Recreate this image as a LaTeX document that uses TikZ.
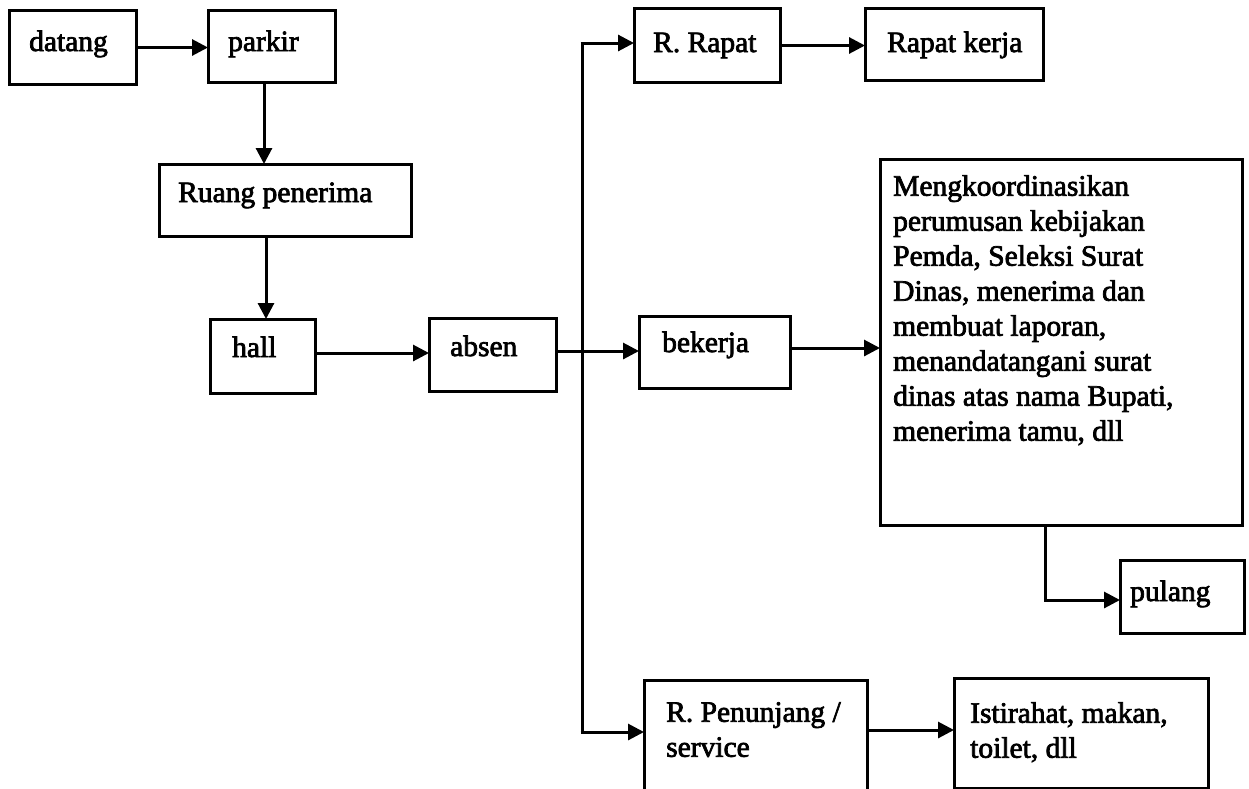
\documentclass[tikz,border=0pt]{standalone}
\usepackage{fontspec}
\setmainfont{Liberation Serif}[FakeBold=2.5]
\usetikzlibrary{arrows.meta,calc}

\tikzset{
  box/.style={draw, line width=3pt, inner sep=0pt, anchor=north west},
  lbl/.style={inner sep=0pt, font=\fontsize{29.5pt}{35pt}\selectfont},
  multi/.style={lbl, align=left, anchor=north west},
  conn/.style={line width=3pt},
  arr/.style={conn, -{Triangle[length=16pt,width=16pt]}, shorten >=-1pt}
}

% a box from its top-left corner (#2,#3), of size #4 x #5
\newcommand{\flowbox}[5]{%
  \node[box, minimum width=#4pt, minimum height=#5pt] (#1) at (#2,#3) {};}

\begin{document}
\begin{tikzpicture}[x=1pt,y=-1pt]
\useasboundingbox (0,0) rectangle (1249,788);
\clip (0,0) rectangle (1249,788);

% boxes
\flowbox{datang}{8}{9}{127}{74}
\flowbox{parkir}{207}{9}{127}{72}
\flowbox{ruang}{158}{163}{252}{72}
\flowbox{hall}{209}{318}{105}{74}
\flowbox{absen}{428}{317}{127}{73}
\flowbox{rrapat}{633}{7}{146}{74}
\flowbox{rkerja}{864}{7}{178}{72}
\flowbox{bekerja}{638}{315}{151}{72}
\flowbox{tugas}{879}{158}{362}{366}
\flowbox{pulang}{1119}{559}{124}{73}
\flowbox{penunjang}{643}{679}{223}{130}
\flowbox{istirahat}{953}{677}{254}{110}

% labels
\node[lbl, anchor=base west] (tdatang) at (29,51) {datang};
\node[lbl, anchor=base west] (tparkir) at (228,51) {parkir};
\node[lbl, anchor=base west] (truang) at (178,202) {Ruang penerima};
\node[lbl, anchor=base west] (thall) at (232,357) {hall};
\node[lbl, anchor=base west] (tabsen) at (450,356) {absen};
\node[lbl, anchor=base west] (trrapat) at (653,52) {R. Rapat};
\node[lbl, anchor=base west] (trkerja) at (887,52) {Rapat kerja};
\node[lbl, anchor=base west] (tbekerja) at (662,352) {bekerja};
\node[lbl, anchor=base west] (tpulang) at (1130,601) {pulang};
\node[multi] (ttugas) at (893,175) {Mengkoordinasikan\\perumusan kebijakan\\Pemda, Seleksi Surat\\Dinas, menerima dan\\membuat laporan,\\menandatangani surat\\dinas atas nama Bupati,\\menerima tamu, dll};
\node[multi] (tpenunjang) at (666,702) {R. Penunjang /\\service};
\node[multi] (tistirahat) at (970,702) {Istirahat, makan,\\toilet, dll};

% connector end points
\coordinate (pk) at ($(parkir.south west)+(57,0)$);
\coordinate (rp) at ($(ruang.south west)+(108,0)$);
\coordinate (hl) at (314,353);
\coordinate (ab) at (555,351);
\coordinate (bk) at (789,348);
\coordinate (tg) at ($(tugas.south west)+(166,0)$);
\coordinate (pl) at (1119,600);
\coordinate (svc) at (866,730);
\coordinate (bustop) at (582,43);
\coordinate (busbot) at (582,732);

% connectors
\draw[arr] (datang.east) -- (datang.east -| parkir.west);
\draw[arr] (pk) -- (pk |- ruang.north);
\draw[arr] (rp) -- (rp |- hall.north);
\draw[arr] (hl) -- (hl -| absen.west);
\draw[arr] (ab) -- (ab -| bekerja.west);
\draw[conn] (bustop) -- (busbot);
\draw[arr] ([xshift=-1.5pt]bustop) -- (bustop -| rrapat.west);
\draw[arr] ([xshift=-1.5pt]busbot) -- (busbot -| penunjang.west);
\draw[arr] (rrapat.east) -- (rrapat.east -| rkerja.west);
\draw[arr] (bk) -- (bk -| tugas.west);
\draw[arr] (tg) |- (pl -| pulang.west);
\draw[arr] (svc) -- (svc -| istirahat.west);
\end{tikzpicture}
\end{document}
